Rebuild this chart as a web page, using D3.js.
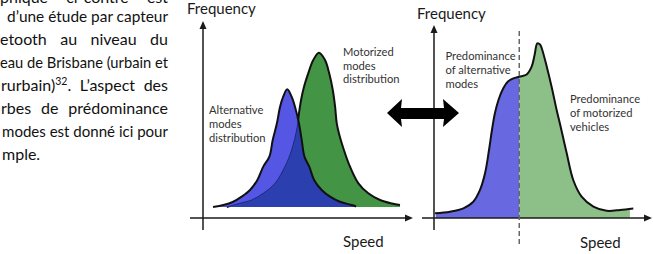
<!DOCTYPE html>
<html><head><meta charset="utf-8">
<script src="https://cdn.jsdelivr.net/npm/d3@7"></script>
<style>html,body{margin:0;padding:0;background:#fff;overflow:hidden}</style>
</head><body>
<svg id="chart" width="653" height="254"></svg>
<script>
// ---------- DATA ----------
const paragraphLines = [
  "phique ci-contre est",
  "d’une étude par capteur",
  "etooth au niveau du",
  "eau de Brisbane (urbain et",
  "rurbain)^32. L’aspect des",
  "rbes de prédominance",
  "modes est donné ici pour",
  "mple."
];
// Left panel: two distributions (speed units 0-100, frequency units 0-100)
const altSpeed = [4.8, 9.7, 14.4, 18.4, 22.4, 25.9, 28.7, 31.6, 33.2, 35.2, 36.7, 38.2, 40.1, 42.2, 43.8, 45.7, 47.0, 48.3, 50.6, 52.9, 56.5, 60.5, 65.2, 70.8, 72.9];
const altFreq  = [5.6, 6.6, 8.3, 10.9, 14.3, 19.4, 26.2, 31.3, 39.8, 48.3, 56.8, 61.9, 65.7, 61.9, 56.8, 48.3, 39.8, 31.3, 26.2, 19.4, 14.3, 10.9, 8.3, 6.6, 5.9];
const motSpeed = [11.3, 16.0, 23.2, 28.7, 34.3, 39.0, 42.2, 44.9, 45.7, 46.7, 48.1, 50.1, 52.5, 55.2, 58.1, 60.1, 61.8, 62.9, 63.7, 65.2, 67.1, 70.0, 74.0, 78.7, 84.3, 90.0, 93.8];
const motFreq  = [5.6, 7.1, 9.2, 12.6, 17.7, 26.2, 34.7, 46.6, 53.4, 60.2, 67.0, 73.8, 80.6, 84.3, 80.6, 73.8, 65.3, 56.8, 48.3, 41.3, 34.7, 26.2, 17.7, 12.6, 9.2, 7.4, 6.6];
const leftBase = 5.6;
// Right panel: combined distribution
const totSpeed = [0.5, 7.6, 14.0, 18.7, 21.9, 24.3, 26.2, 27.6, 29.0, 30.7, 33.0, 35.2, 37.8, 40.6, 44.1, 46.5, 47.9, 49.2, 50.5, 51.3, 53.7, 56.0, 58.4, 60.5, 63.2, 66.3, 70.3, 75.9, 82.2, 88.6, 94.9];
const totFreq  = [2.4, 3.2, 4.9, 8.3, 14.3, 22.8, 34.7, 44.9, 53.4, 60.2, 66.2, 69.6, 71.2, 72.1, 73.2, 77.2, 83.2, 89.1, 88.5, 86.6, 77.2, 67.0, 55.1, 45.7, 33.0, 19.4, 10.9, 5.8, 3.7, 4.1, 4.9];
const splitSpeed = 40.6;
const fillStart = 0.8, fillEnd = 93.3;
// Labels
const axisLabels = ["Frequency", "Speed"];
const altLabel = ["Alternative", "modes", "distribution"];
const motLabel = ["Motorized", "modes", "distribution"];
const predAltLabel = ["Predominance", "of alternative", "modes"];
const predMotLabel = ["Predominance", "of motorized", "vehicles"];

// ---------- DRAW ----------
const svg = d3.select("#chart");
const defs = svg.append("defs");
const FONT = "Lato, 'Open Sans', sans-serif";

// Paragraph (justified)
const para = svg.append("g").attr("font-family", FONT).attr("font-size", 16).attr("fill", "#111");
const paraStarts = [0, 7, 0, 0, 1, 1, 2, 2];
const paraBaselines = [3, 22, 45, 68, 91, 114, 137, 160];
const paraRight = 168;
paragraphLines.forEach((ln, i) => {
  const t = para.append("text").attr("x", paraStarts[i]).attr("y", paraBaselines[i]);
  const m = ln.split("^");
  if (m.length > 1) {
    const sup = m[1].match(/^(\d+)(.*)$/);
    t.append("tspan").text(m[0]);
    t.append("tspan").attr("dy", -6).attr("font-size", 10.5).text(sup[1]);
    t.append("tspan").attr("dy", 6).text(sup[2]);
  } else t.text(ln);
  if (i < paragraphLines.length - 1) {
    const w = t.node().getComputedTextLength();
    const nSp = (ln.match(/ /g) || []).length;
    const target = paraRight - paraStarts[i];
    const ws = (target - w) / nSp;
    if (ws >= 0) t.style("word-spacing", ws + "px");
    else t.attr("textLength", target).attr("lengthAdjust", "spacingAndGlyphs");
  }
});

// Scales
const xL = d3.scaleLinear([0, 100], [203, 413]);
const xR = d3.scaleLinear([0, 100], [434, 644]);
const y = d3.scaleLinear([0, 100], [218, 22]);

const altPts = altSpeed.map((s, i) => [s, altFreq[i]]);
const motPts = motSpeed.map((s, i) => [s, motFreq[i]]);
const totPts = totSpeed.map((s, i) => [s, totFreq[i]]);
const curve = d3.curveCatmullRom.alpha(0.5);

const areaL = d3.area().x(d => xL(d[0])).y0(y(leftBase)).y1(d => y(d[1])).curve(curve);
const lineL = d3.line().x(d => xL(d[0])).y(d => y(d[1])).curve(curve);
const areaR = d3.area().x(d => xR(d[0])).y0(y(0)).y1(d => y(d[1])).curve(curve);
const lineR = d3.line().x(d => xR(d[0])).y(d => y(d[1])).curve(curve);

// Left panel fills
defs.append("clipPath").attr("id", "clipMot").append("path").attr("d", areaL(motPts));
defs.append("clipPath").attr("id", "clipAlt").append("path").attr("d", areaL(altPts));
const gl = svg.append("g");
gl.append("path").attr("d", areaL(motPts)).attr("fill", "#449446");
gl.append("path").attr("d", lineL(motPts)).attr("fill", "none").attr("stroke", "#111").attr("stroke-width", 2);
gl.append("path").attr("d", areaL(altPts)).attr("fill", "#5656e4");
gl.append("path").attr("d", areaL(altPts)).attr("fill", "#2b3fae").attr("clip-path", "url(#clipMot)");
gl.append("path").attr("d", lineL(motPts)).attr("fill", "none").attr("stroke", "#1c2a80").attr("stroke-width", 1).attr("clip-path", "url(#clipAlt)");
gl.append("path").attr("d", lineL(altPts)).attr("fill", "none").attr("stroke", "#111").attr("stroke-width", 2);

// Right panel fills
const xSplit = xR(splitSpeed);
defs.append("clipPath").attr("id", "clipLeftPart").append("rect")
  .attr("x", xR(fillStart)).attr("y", 0).attr("width", xSplit - xR(fillStart)).attr("height", 254);
defs.append("clipPath").attr("id", "clipRightPart").append("rect")
  .attr("x", xSplit).attr("y", 0).attr("width", xR(fillEnd) - xSplit).attr("height", 254);
const gr = svg.append("g");
gr.append("path").attr("d", areaR(totPts)).attr("fill", "#6868e0").attr("clip-path", "url(#clipLeftPart)");
gr.append("path").attr("d", areaR(totPts)).attr("fill", "#8dbf88").attr("clip-path", "url(#clipRightPart)");
gr.append("path").attr("d", lineR(totPts)).attr("fill", "none").attr("stroke", "#111").attr("stroke-width", 2);

// Axes
function axes(x0, xAxisStart, xAxisEnd, yAxisTop, yAxisBottom, axisY) {
  const g = svg.append("g").attr("stroke", "#1a1a1a").attr("stroke-width", 1.5);
  g.append("line").attr("x1", x0).attr("x2", x0).attr("y1", yAxisTop + 2).attr("y2", yAxisBottom);
  g.append("line").attr("x1", xAxisStart).attr("x2", xAxisEnd - 2).attr("y1", axisY).attr("y2", axisY);
  svg.append("path").attr("fill", "#1a1a1a")
    .attr("d", `M${x0},${yAxisTop} L${x0 - 3.5},${yAxisTop + 8} L${x0 + 3.5},${yAxisTop + 8} Z`);
  svg.append("path").attr("fill", "#1a1a1a")
    .attr("d", `M${xAxisEnd},${axisY} L${xAxisEnd - 8},${axisY - 3.5} L${xAxisEnd - 8},${axisY + 3.5} Z`);
}
axes(xL(0), 190, 413, 21, 230, y(0));
axes(xR(0), 422, 652, 25, 230, y(0));

// Dashed split line
svg.append("line").attr("x1", xSplit).attr("x2", xSplit).attr("y1", 31).attr("y2", 246)
  .attr("stroke", "#666").attr("stroke-width", 1.5).attr("stroke-dasharray", "5,3");

// Double arrow
svg.append("path").attr("fill", "#000")
  .attr("d", "M387,113 L402,99 L401,108 L444,108 L443,99 L459,113 L443,127 L444,119 L401,119 L402,127 Z");

// Axis titles
const tg = svg.append("g").attr("font-family", FONT).attr("font-size", 15).attr("fill", "#1a1a1a");
tg.append("text").attr("x", 187).attr("y", 14).text(axisLabels[0]);
tg.append("text").attr("x", 417).attr("y", 18.5).text(axisLabels[0]);
tg.append("text").attr("x", 343).attr("y", 247).text(axisLabels[1]);
tg.append("text").attr("x", 580).attr("y", 248).text(axisLabels[1]);

// Annotations
const lg = svg.append("g").attr("font-family", FONT).attr("font-size", 11.2).attr("fill", "#333");
function block(lines, x, y0, step) {
  lines.forEach((l, i) => lg.append("text").attr("x", x).attr("y", y0 + i * step).text(l));
}
block(altLabel, 209, 114, 14);
block(motLabel, 343, 56, 13.7);
block(predAltLabel, 445.5, 59.5, 14);
block(predMotLabel, 570, 102.7, 14);
</script>
</body></html>
